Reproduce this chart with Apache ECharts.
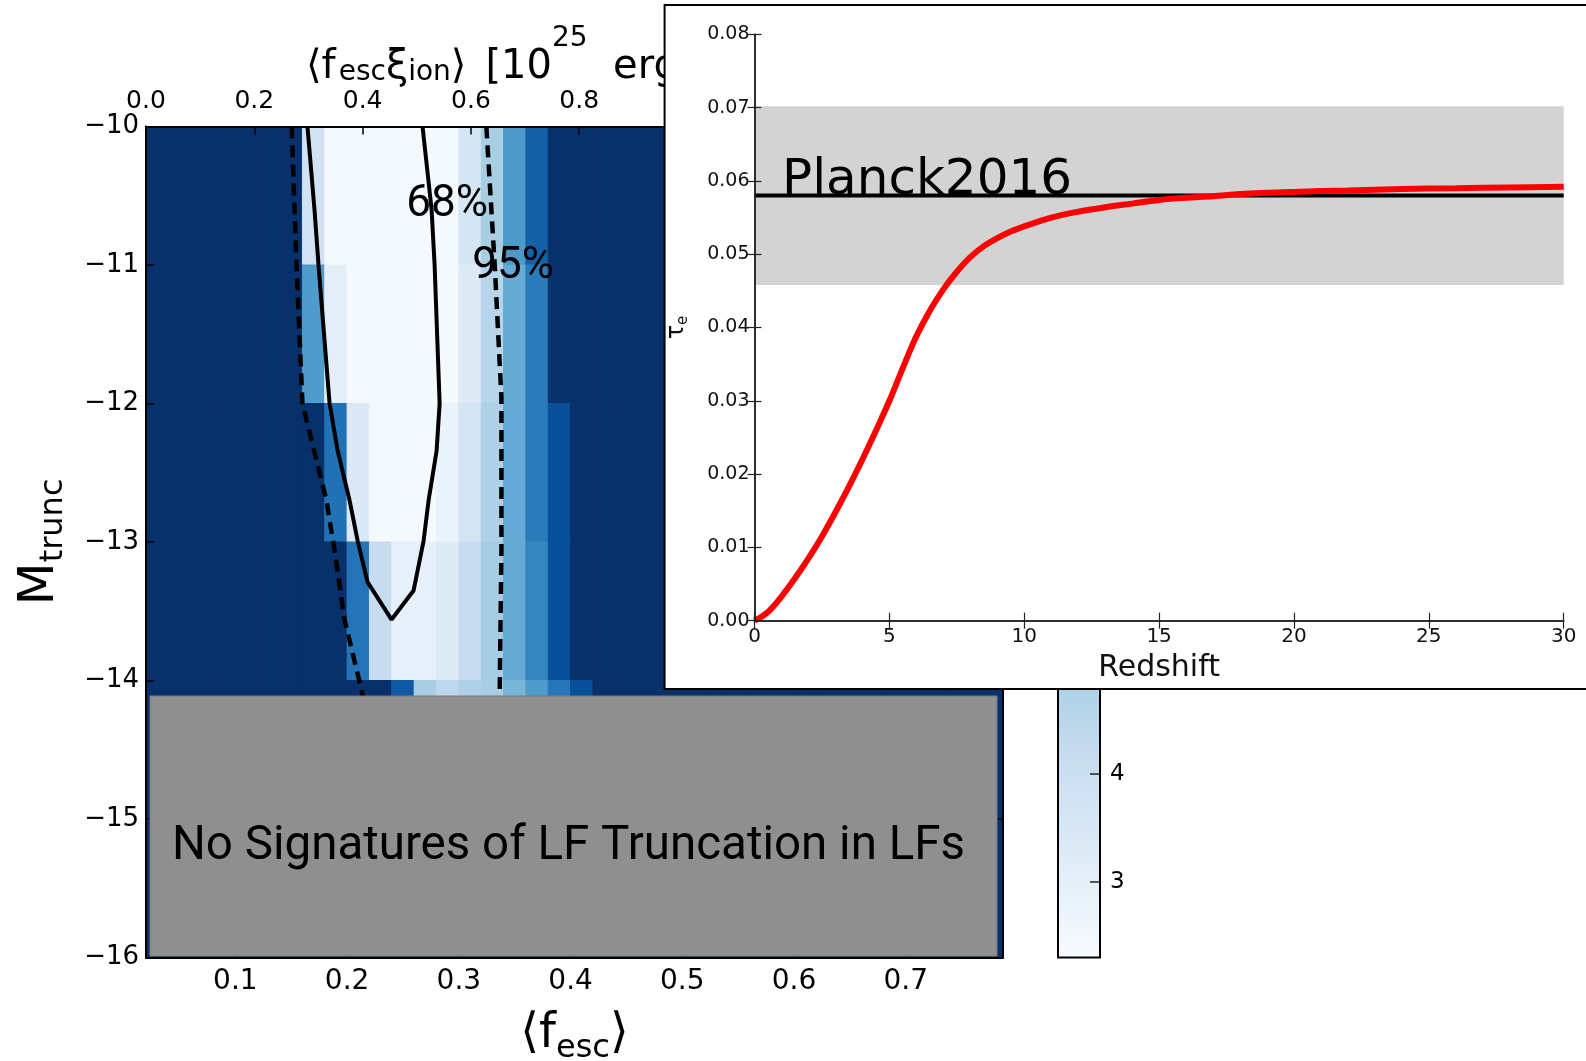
<!DOCTYPE html>
<html><head><meta charset="utf-8">
<script src="https://cdn.jsdelivr.net/npm/echarts@6/dist/echarts.min.js"></script>
<style>html,body{margin:0;padding:0;background:#fff}#c{width:1586px;height:1061px}</style>
</head><body><div id="c"></div>
<script>
// ================= DATA =================
// Main panel: heat map of M_trunc vs <f_esc>; bins of 0.02 in f_esc, 1 mag in M_trunc
const fescRange = [0.02, 0.80];          // full binned range
const fescBinWidth = 0.02;
const fescWindowStart = 0.16;            // first bin of the resolved window below
const mtruncEdges = [-10, -11, -12, -13, -14, -15, -16];
const saturatedValue = 10;               // value of every bin outside the window (darkest colour)
// colour values (colour-bar units) for bins 0.16, 0.18, ... 0.42
const rowM10 = [3.8, 2.4, 2.4, 2.4, 2.4, 2.4, 2.4, 3.6, 4.95, 6.85, 8.56, 10, 10, 10];
const rowM11 = [6.8, 3.07, 2.4, 2.4, 2.4, 2.4, 2.4, 3.26, 4.58, 6.27, 7.78, 10, 10, 10];
const rowM12 = [10, 8.08, 3.38, 2.4, 2.4, 2.4, 2.8, 3.7, 4.78, 6.3, 7.78, 9.08, 10, 10];
const rowM13 = [10, 10, 7.99, 4.15, 2.95, 2.95, 3.26, 4.15, 5.0, 6.27, 7.49, 9.08, 10, 10];
const rowM14 = [10, 10, 10, 10, 8.77, 4.95, 4.44, 4.78, 5.0, 5.9, 6.8, 7.9, 9.08, 10];
const rowM15 = [10, 10, 10, 10, 10, 10, 10, 10, 10, 10, 10, 10, 10, 10];
const heatRows = [rowM10, rowM11, rowM12, rowM13, rowM14, rowM15];

// confidence contours [f_esc, M_trunc]
const contour68 = [[0.1645,-10.0],[0.1708,-10.6],[0.1744,-11.0],[0.1843,-12.0],[0.1915,-12.34],[0.2022,-12.70],
  [0.2094,-12.99],[0.2183,-13.29],[0.2398,-13.56],[0.2595,-13.35],[0.2685,-12.99],[0.2729,-12.70],
  [0.2801,-12.34],[0.2828,-12.0],[0.2783,-11.0],[0.2756,-10.6],[0.2675,-10.0]];
const contour95Left = [[0.1504,-10.0],[0.1547,-11.0],[0.160,-12.0],[0.1815,-12.70],[0.1887,-13.06],
  [0.1977,-13.56],[0.2129,-14.07],[0.2160,-14.2]];
const contour95Right = [[0.3246,-10.0],[0.3291,-10.6],[0.3321,-11.0],[0.3381,-11.96],[0.3381,-13.05],
  [0.3366,-14.06],[0.3364,-14.2]];
const contourLabels = ['68%', '95%'];
const contourLabelPos = [[0.2895, -10.57], [0.3485, -11.014]];

// axes
const fescAxis = [0.02, 0.787];
const fescTicks = [0.1, 0.2, 0.3, 0.4, 0.5, 0.6, 0.7];
const xiAxis = [0, 1.5826];
const mtruncAxis = [-16, -10];
const cbarRange = [2.3, 10];
const cbarTicks = [3, 4, 5, 6, 7, 8, 9, 10];

// Inset: optical depth vs redshift
const redshift = [0, 0.5, 1, 1.5, 2, 2.5, 3, 3.5, 4, 4.5, 5, 5.5, 6, 6.5, 7, 7.5, 8, 8.5, 9, 9.5, 10,
  11, 12, 13, 14, 15, 16, 17, 18, 20, 22, 24, 26, 28, 30];
const tauE = [0, 0.0012, 0.0033, 0.0058, 0.0085, 0.0115, 0.0148, 0.0183, 0.0220, 0.0259, 0.0300, 0.0345,
  0.0388, 0.0423, 0.0452, 0.0476, 0.0496, 0.0511, 0.0522, 0.0531, 0.0538, 0.0550, 0.0558, 0.0564,
  0.0569, 0.0574, 0.0577, 0.0579, 0.0582, 0.0585, 0.0587, 0.0589, 0.0590, 0.0591, 0.0592];
const planckTau = 0.058;
const planckBand = [0.0458, 0.0702];
const planckLabel = 'Planck2016';
const planckLabelPos = [1.02, 0.0600];
const zAxis = [0, 30];
const tauAxis = [0, 0.08];

// ================= BUILD =================
const BLUES = ['#f7fbff','#deebf7','#c6dbef','#9ecae1','#6baed6','#4292c6','#2171b5','#08519c','#08306b'];
const FONT = 'DejaVu Sans';

const nBins = Math.round((fescRange[1] - fescRange[0]) / fescBinWidth);
const cells = [];
heatRows.forEach((row, r) => {
  for (let k = 0; k < nBins; k++) {
    const x0 = fescRange[0] + k * fescBinWidth;
    const idx = Math.round((x0 - fescWindowStart) / fescBinWidth);
    const v = (idx >= 0 && idx < row.length) ? row[idx] : saturatedValue;
    cells.push([x0, x0 + fescBinWidth, mtruncEdges[r], mtruncEdges[r + 1], v]);
  }
});
const curve = redshift.map((z, i) => [z, tauE[i]]);

const chart = echarts.init(document.getElementById('c'), null, {renderer: 'canvas'});
const minus = v => (v < 0 ? '\u2212' : '') + Math.abs(v);

const option = {
  animation: false,
  backgroundColor: '#fff',
  title: {
    left: 306, top: 23, padding: 0, z: 6,
    text: '{m|\u27e8f}{b1|esc}{m|\u03be}{b|ion}{m|\u27e9}{m2|[10}{p|25}{m|  erg}{p|\u22121}{m| Hz]}',
    textStyle: {
      fontWeight: 'normal',
      rich: {
        m: {fontFamily: FONT, fontWeight: 'normal', fontSize: 40, color: '#000', lineHeight: 90, verticalAlign: 'middle'},
        m2: {fontFamily: FONT, fontWeight: 'normal', fontSize: 40, color: '#000', lineHeight: 90, verticalAlign: 'middle', padding: [0, 0, 0, 19]},
        b1: {fontFamily: FONT, fontWeight: 'normal', fontSize: 28, color: '#000', verticalAlign: 'middle', padding: [10, 0, 0, 3]},
        b: {fontFamily: FONT, fontWeight: 'normal', fontSize: 28, color: '#000', verticalAlign: 'middle', padding: [10, 0, 0, 0]},
        p: {fontFamily: FONT, fontWeight: 'normal', fontSize: 28, color: '#000', verticalAlign: 'middle', padding: [0, 0, 58, 0]}
      }
    }
  },
  grid: [
    {left: 146, top: 126.5, width: 857, height: 831, outerBoundsMode: 'none', containLabel: false},
    {left: 1058, top: 126.5, width: 42, height: 831, outerBoundsMode: 'none', containLabel: false},
    {left: 754.5, top: 34.3, width: 809.2, height: 586.4, outerBoundsMode: 'none', containLabel: false}
  ],
  visualMap: [{
    type: 'continuous', show: false, min: cbarRange[0], max: cbarRange[1],
    dimension: 4, seriesIndex: 0, inRange: {color: BLUES}
  }],
  xAxis: [
    { // 0 main bottom
      gridIndex: 0, type: 'value', min: fescAxis[0], max: fescAxis[1], position: 'bottom', z: 10,
      axisLine: {lineStyle: {color: '#000', width: 2}},
      axisTick: {inside: true, length: 8, customValues: fescTicks, lineStyle: {color: '#000', width: 1.5}},
      axisLabel: {customValues: fescTicks, formatter: v => v.toFixed(1), fontFamily: FONT, fontSize: 28, color: '#000', margin: 10},
      splitLine: {show: false},
      name: '{m|\u27e8f}{b|esc}{m|\u27e9}', nameLocation: 'middle', nameGap: 47,
      nameTextStyle: {rich: {
        m: {fontFamily: FONT, fontSize: 48, color: '#000', lineHeight: 60},
        b: {fontFamily: FONT, fontSize: 32, color: '#000', lineHeight: 40, verticalAlign: 'bottom'}
      }}
    },
    { // 1 main top
      gridIndex: 0, type: 'value', min: xiAxis[0], max: xiAxis[1], interval: 0.2, position: 'top', z: 10,
      axisLine: {lineStyle: {color: '#000', width: 2}},
      axisTick: {inside: true, length: 8, lineStyle: {color: '#000', width: 1.5}},
      axisLabel: {formatter: v => v.toFixed(1), fontFamily: FONT, fontSize: 25, color: '#000', margin: 13},
      splitLine: {show: false}
    },
    { // 2 colourbar
      gridIndex: 1, type: 'value', min: 0, max: 1, show: false
    },
    { // 3 inset bottom
      gridIndex: 2, type: 'value', min: zAxis[0], max: zAxis[1], interval: 5, position: 'bottom', z: 64,
      axisLine: {lineStyle: {color: '#222', width: 1.5}},
      axisTick: {inside: true, length: 8, lineStyle: {color: '#222', width: 1.2}},
      axisLabel: {fontFamily: FONT, fontSize: 20, color: '#111', margin: 6},
      splitLine: {show: false},
      name: 'Redshift', nameLocation: 'middle', nameGap: 33,
      nameTextStyle: {fontFamily: FONT, fontSize: 30, color: '#111'}
    },
    { // 4 inset top
      gridIndex: 2, type: 'value', min: zAxis[0], max: zAxis[1], interval: 5, position: 'top', z: 64,
      axisLine: {lineStyle: {color: '#222', width: 1.5}},
      axisTick: {inside: true, length: 8, lineStyle: {color: '#222', width: 1.2}},
      axisLabel: {show: false}, splitLine: {show: false}
    }
  ],
  yAxis: [
    { // 0 main left
      gridIndex: 0, type: 'value', min: mtruncAxis[0], max: mtruncAxis[1], interval: 1, position: 'left', z: 10,
      axisLine: {lineStyle: {color: '#000', width: 2}},
      axisTick: {inside: true, length: 8, lineStyle: {color: '#000', width: 1.5}},
      axisLabel: {formatter: minus, fontFamily: FONT, fontSize: 26, color: '#000', margin: 7},
      splitLine: {show: false},
      name: '{m|M}{b|trunc}', nameLocation: 'middle', nameRotate: 90, nameGap: 76,
      nameTextStyle: {rich: {
        m: {fontFamily: FONT, fontSize: 50, color: '#000', lineHeight: 60},
        b: {fontFamily: FONT, fontSize: 32, color: '#000', lineHeight: 40, verticalAlign: 'bottom'}
      }}
    },
    { // 1 main right
      gridIndex: 0, type: 'value', min: mtruncAxis[0], max: mtruncAxis[1], interval: 1, position: 'right', z: 10,
      axisLine: {lineStyle: {color: '#000', width: 2}},
      axisTick: {inside: true, length: 8, lineStyle: {color: '#000', width: 1.5}},
      axisLabel: {show: false}, splitLine: {show: false}
    },
    { // 2 colourbar
      gridIndex: 1, type: 'value', min: cbarRange[0], max: cbarRange[1], position: 'right', z: 10,
      axisLine: {show: false},
      axisTick: {show: false},
      axisLabel: {customValues: cbarTicks, fontFamily: FONT, fontSize: 23, color: '#000', margin: 10},
      splitLine: {show: false}
    },
    { // 3 inset left
      gridIndex: 2, type: 'value', min: tauAxis[0], max: tauAxis[1], interval: 0.01, position: 'left', z: 64,
      axisLine: {lineStyle: {color: '#222', width: 1.5}},
      axisTick: {inside: true, length: 7, lineStyle: {color: '#222', width: 1.2}},
      axisLabel: {formatter: v => v.toFixed(2), fontFamily: FONT, fontSize: 19, color: '#111', margin: 5},
      splitLine: {show: false},
      name: '{m|\u03c4}{b|e}', nameLocation: 'middle', nameRotate: 90, nameGap: 64,
      nameTextStyle: {rich: {
        m: {fontFamily: FONT, fontSize: 24, color: '#111', lineHeight: 28},
        b: {fontFamily: FONT, fontSize: 15, color: '#111', lineHeight: 20, verticalAlign: 'bottom'}
      }}
    },
    { // 4 inset right
      gridIndex: 2, type: 'value', min: tauAxis[0], max: tauAxis[1], interval: 0.01, position: 'right', z: 64,
      axisLine: {lineStyle: {color: '#222', width: 1.5}},
      axisTick: {inside: true, length: 7, lineStyle: {color: '#222', width: 1.2}},
      axisLabel: {show: false}, splitLine: {show: false}
    }
  ],
  graphic: [
    { // "no signatures" panel
      type: 'group', z: 40,
      children: [
        {type: 'rect', z: 40, shape: {x: 150, y: 696, width: 847, height: 260},
         style: {fill: '#8f8f8f', stroke: '#7a7a7a', lineWidth: 1}},
        {type: 'text', z: 41, x: 568.5, y: 847,
         style: {text: 'No Signatures of LF Truncation in LFs', font: '47.5px Roboto', fill: '#000',
                 align: 'center', verticalAlign: 'middle'}}
      ]
    },
    { // inset frame
      type: 'rect', z: 50, shape: {x: 664.6, y: 5, width: 1000, height: 684},
      style: {fill: '#fff', stroke: '#000', lineWidth: 2}
    }
  ],
  series: [
    { // 0 heat map
      type: 'custom', xAxisIndex: 0, yAxisIndex: 0, z: 2, clip: true,
      encode: {x: [0, 1], y: [2, 3]},
      data: cells,
      renderItem: (params, api) => {
        const p0 = api.coord([api.value(0), api.value(2)]);
        const p1 = api.coord([api.value(1), api.value(3)]);
        const c = api.visual('color');
        return {type: 'rect', shape: {x: p0[0], y: p0[1], width: p1[0] - p0[0], height: p1[1] - p0[1]},
                style: {fill: c, stroke: c, lineWidth: 1}};
      }
    },
    { type: 'line', xAxisIndex: 0, yAxisIndex: 0, z: 5, data: contour68, symbol: 'none', smooth: false,
      lineStyle: {color: '#000', width: 4}, silent: true },
    { type: 'line', xAxisIndex: 0, yAxisIndex: 0, z: 5, data: contour95Left, symbol: 'none',
      lineStyle: {color: '#000', width: 4.5, type: [12, 7]}, silent: true },
    { type: 'line', xAxisIndex: 0, yAxisIndex: 0, z: 5, data: contour95Right, symbol: 'none',
      lineStyle: {color: '#000', width: 4.5, type: [12, 7]}, silent: true },
    { // contour labels
      type: 'custom', xAxisIndex: 0, yAxisIndex: 0, z: 6, data: contourLabelPos,
      renderItem: (params, api) => {
        const p = api.coord([api.value(0), api.value(1)]);
        return {type: 'text', x: p[0], y: p[1],
                style: {text: contourLabels[params.dataIndex], font: '44px Roboto', fill: '#000', align: 'center', verticalAlign: 'middle'}};
      }
    },
    { // colour bar with its ticks
      type: 'custom', xAxisIndex: 2, yAxisIndex: 2, z: 3, data: [[cbarRange[0], cbarRange[1]]],
      renderItem: (params, api) => {
        const cs = params.coordSys;
        const yTop = api.coord([0, api.value(1)])[1];
        const yBot = api.coord([0, api.value(0)])[1];
        const stops = BLUES.map((c, i) => ({offset: i / (BLUES.length - 1), color: c}));
        const children = [{type: 'rect', shape: {x: cs.x, y: yTop, width: cs.width, height: yBot - yTop},
                style: {fill: new echarts.graphic.LinearGradient(0, 1, 0, 0, stops), stroke: '#000', lineWidth: 2}}];
        cbarTicks.forEach(t => {
          const y = api.coord([0, t])[1];
          children.push({type: 'line', shape: {x1: cs.x + cs.width - 10, y1: y, x2: cs.x + cs.width, y2: y},
                         style: {stroke: '#222', lineWidth: 1.5}});
        });
        return {type: 'group', children};
      }
    },
    { // Planck band
      type: 'custom', xAxisIndex: 3, yAxisIndex: 3, z: 61, data: [planckBand],
      renderItem: (params, api) => {
        const cs = params.coordSys;
        const yTop = api.coord([0, api.value(1)])[1];
        const yBot = api.coord([0, api.value(0)])[1];
        return {type: 'rect', shape: {x: cs.x, y: yTop, width: cs.width, height: yBot - yTop}, style: {fill: '#d3d3d3'}};
      }
    },
    { // Planck central value
      type: 'custom', xAxisIndex: 3, yAxisIndex: 3, z: 62, data: [[planckTau]],
      renderItem: (params, api) => {
        const cs = params.coordSys;
        const y = api.coord([0, api.value(0)])[1];
        return {type: 'line', shape: {x1: cs.x, y1: y, x2: cs.x + cs.width, y2: y}, style: {stroke: '#000', lineWidth: 4}};
      }
    },
    { // Planck label
      type: 'custom', xAxisIndex: 3, yAxisIndex: 3, z: 62, data: [planckLabelPos],
      renderItem: (params, api) => {
        const p = api.coord([api.value(0), api.value(1)]);
        return {type: 'text', x: p[0], y: p[1],
                style: {text: planckLabel, font: '50px "DejaVu Sans"', fill: '#000', align: 'left', verticalAlign: 'middle'}};
      }
    },
    { // tau_e curve
      type: 'line', xAxisIndex: 3, yAxisIndex: 3, z: 63, data: curve, symbol: 'none', smooth: 0.35,
      lineStyle: {color: '#ff0000', width: 6}, silent: true
    }
  ]
};
chart.setOption(option);
</script>
</body></html>
